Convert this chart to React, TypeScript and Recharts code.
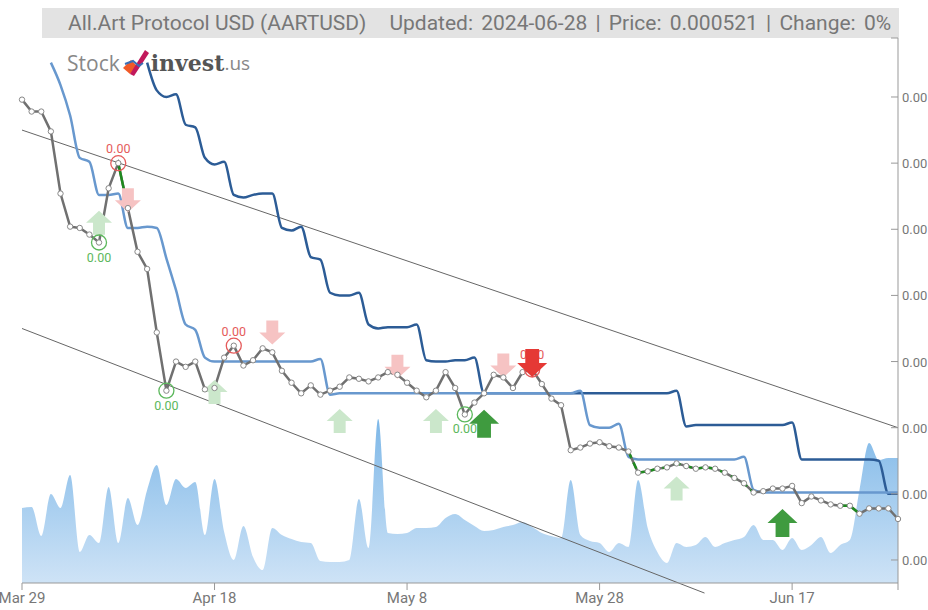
import { ComposedChart, Area, Line, XAxis, YAxis, ReferenceLine } from "recharts";

// price in millionths of a USD, one value per day from Mar 29 to Jun 28
const price = [
  848, 839, 839, 824, 777, 752, 751, 746, 740, 781,
  800, 766, 733, 720, 672, 628, 650, 646, 650, 629,
  630, 653, 662, 647, 651, 660, 657, 643, 634, 626,
  632, 625, 628, 631, 638, 637, 635, 638, 642, 640,
  634, 628, 623, 628, 642, 630, 610, 619, 626, 640,
  638, 630, 642, 644, 633, 622, 617, 583, 585, 588,
  589, 586, 585, 582, 566, 567, 569, 570, 573, 571,
  569, 570, 569, 566, 562, 558, 551, 552, 554, 554,
  556, 543, 548, 545, 542, 541, 541, 535, 539, 539,
  539, 531,
];

const fastMa = [
  null, null, null, 876, 859, 836, 804, 801, 776, 776,
  777, 751, 751, 752, 751, 728, 704, 678, 674, 653,
  650, 650, 650, 650, 650, 650, 650, 650, 650, 650,
  650, 652, 625, 626, 626, 626, 626, 626, 626, 626,
  626, 626, 626, 626, 626, 626, 626, 626, 626, 626,
  626, 626, 626, 626, 626, 626, 626, 626, 628, 602,
  600, 600, 603, 578, 576, 576, 576, 576, 576, 576,
  576, 576, 576, 576, 576, 578, 553, 551, 551, 551,
  551, 551, 551, 551, 551, 551, 551, 551, 551, 551,
  551, 551,
];

const slowMa = [
  null, null, null, null, null, null, null, null, null, null,
  null, null, null, 876, 855, 850, 852, 829, 827, 804,
  799, 801, 776, 774, 776, 777, 777, 751, 749, 752,
  729, 727, 702, 700, 700, 702, 678, 675, 676, 676,
  676, 678, 651, 650, 650, 651, 651, 653, 626, 626,
  626, 626, 626, 626, 626, 626, 626, 626, 626, 626,
  626, 626, 626, 626, 626, 626, 626, 626, 628, 601,
  602, 602, 602, 602, 602, 602, 602, 602, 602, 602,
  604, 576, 576, 576, 576, 576, 576, 576, 576, 575,
  550, 550,
];

const volume = [
  75, 76, 47, 89, 75, 108, 31, 48, 40, 96,
  40, 85, 58, 93, 118, 78, 104, 95, 101, 48,
  104, 51, 23, 57, 26, 13, 55, 48, 44, 41,
  40, 22, 21, 21, 23, 84, 35, 164, 50, 49,
  50, 55, 55, 56, 65, 69, 63, 57, 52, 53,
  56, 58, 61, 56, 50, 47, 45, 103, 48, 42,
  40, 31, 40, 36, 103, 55, 31, 20, 40, 36,
  38, 46, 36, 40, 43, 46, 58, 43, 43, 33,
  45, 33, 38, 46, 30, 38, 43, 93, 140, 123,
  125, 125,
];

const tickDays = [0, 20, 40, 60, 80, 91];
const tickLabels = ["Mar 29", "Apr 18", "May 8", "May 28", "Jun 17", ""];
const priceTicks = [500, 550, 600, 650, 700, 750, 800, 850, 894.6];

const trendSolidDays = [10, 11];
const trendDashDays = [63, 64, 65, 66, 67, 68, 69, 70, 71, 72, 73, 74, 75, 76, 85, 86, 87];

const pivotDays = [8, 10, 15, 22, 46, 53];
const pivotKinds = ["low", "high", "low", "high", "low", "high"];

const arrowDays = [8, 11, 20, 26, 33, 39, 43, 48, 50, 53, 68, 79];
const arrowLevels = [755, 772, 627, 672, 605, 646, 605, 603, 647, 649, 554, 528];
const arrowKinds = ["up", "down", "up", "down", "up", "down", "up", "upStrong", "down", "downStrong", "up", "upStrong"];

const upperChannel = [
  { x: 0, y: 825 },
  { x: 91, y: 600 },
];
const lowerChannel = [
  { x: 0, y: 675 },
  { x: 70.9, y: 475 },
];

const rows = price.map((p, i) => {
  const a = arrowDays.indexOf(i);
  const kind = a >= 0 ? arrowKinds[a] : "";
  return {
    day: i,
    price: p,
    fast: fastMa[i],
    slow: slowMa[i],
    volume: volume[i],
    trendSolid: trendSolidDays.includes(i) ? p : null,
    trendDash: trendDashDays.includes(i) ? p : null,
    pivot: pivotDays.includes(i) ? p : null,
    arrowLight: kind === "up" || kind === "down" ? arrowLevels[a] : null,
    arrowStrong: kind.endsWith("Strong") ? arrowLevels[a] : null,
  };
});

const PriceTick = (props: any) => {
  const { x, y, payload } = props;
  const isTop = payload.value > 890;
  return (
    <g>
      <line x1={x - 11} x2={x - 4} y1={y} y2={y} stroke="#999" />
      {!isTop && (
        <text x={x} y={y} dy={5} fill="#777" fontSize={13} textAnchor="start" fontFamily="Roboto">
          {(payload.value / 1e6).toFixed(2)}
        </text>
      )}
    </g>
  );
};

const arrowPath = (cx: number, cy: number, w: number, h: number, up: boolean) => {
  const s = up ? 1 : -1;
  const sw = w * 0.23;
  return [
    `M${cx - w / 2},${cy}`,
    `L${cx},${cy - (s * h) / 2}`,
    `L${cx + w / 2},${cy}`,
    `L${cx + sw},${cy}`,
    `L${cx + sw},${cy + (s * h) / 2}`,
    `L${cx - sw},${cy + (s * h) / 2}`,
    `L${cx - sw},${cy}`,
    "Z",
  ].join(" ");
};

const ArrowDot = (props: any) => {
  const { cx, cy, value, index } = props;
  if (value == null || cx == null || cy == null) return <g key={`ar-${index}`} />;
  const kind = arrowKinds[arrowDays.indexOf(index)];
  const strong = kind.endsWith("Strong");
  const up = kind.startsWith("up");
  const color = strong ? (up ? "#3f9b3f" : "#e53935") : up ? "#cbe7cb" : "#f6c3c3";
  const w = strong ? 30 : 26;
  const h = strong ? 28 : 24;
  return <path key={`ar-${index}`} d={arrowPath(cx, cy, w, h, up)} fill={color} />;
};

const PivotDot = (props: any) => {
  const { cx, cy, value, index } = props;
  if (value == null || cx == null || cy == null) return <g key={`pv-${index}`} />;
  const high = pivotKinds[pivotDays.indexOf(index)] === "high";
  const color = high ? "#e55b5b" : "#5cb85c";
  return (
    <g key={`pv-${index}`}>
      <circle cx={cx} cy={cy} r={7.5} fill="none" stroke={color} strokeWidth={1.3} />
      <text
        x={cx}
        y={high ? cy - 10 : cy + 19}
        textAnchor="middle"
        fill={color}
        fontSize={12.5}
        fontFamily="Roboto"
      >
        {(value / 1e6).toFixed(2)}
      </text>
    </g>
  );
};

const Logo = () => (
  <div style={{ position: "absolute", left: 67, top: 47, height: 32, display: "flex", alignItems: "center" }}>
    <span style={{ fontFamily: "Open Sans", fontSize: 21, color: "#888" }}>Stock</span>
    <svg width={30} height={30} viewBox="0 0 30 30" style={{ margin: "0 0 0 1px" }}>
      <polygon points="2,20 10,12 16,18 9,26" fill="#f05a28" />
      <polygon points="9,26 24,2 28,5 13,28" fill="#c2185b" />
      <polyline points="4,16 12,13 18,18 22,15" fill="none" stroke="#3b6fb5" strokeWidth={2} />
    </svg>
    <span style={{ fontFamily: "DejaVu Serif", fontWeight: "bold", fontSize: 22, color: "#555" }}>invest</span>
    <span style={{ fontFamily: "Open Sans", fontSize: 19, color: "#888" }}>.us</span>
  </div>
);

export default function App() {
  return (
    <div style={{ position: "absolute", left: 0, top: 0, width: 928, height: 610, background: "#fff" }}>
      <div
        style={{
          position: "absolute",
          left: 42,
          top: 8,
          width: 857,
          height: 30,
          background: "#e3e3e3",
          fontFamily: "Roboto",
          fontSize: 21,
          color: "#777",
          lineHeight: "30px",
          whiteSpace: "nowrap",
        }}
      >
        <span style={{ marginLeft: 26 }}>All.Art Protocol USD (AARTUSD)</span>
        <span style={{ marginLeft: 23, wordSpacing: 3 }}>Updated: 2024-06-28 | Price: 0.000521 | Change: 0%</span>
      </div>
      <ComposedChart
        width={928}
        height={610}
        data={rows}
        margin={{ top: 38, right: 0, bottom: 0, left: 22 }}
      >
        <defs>
          <linearGradient id="volFill" x1="0" y1="0" x2="0" y2="1">
            <stop offset="0%" stopColor="#5ea6e2" stopOpacity={1} />
            <stop offset="100%" stopColor="#c2dcf4" stopOpacity={1} />
          </linearGradient>
        </defs>
        <XAxis
          dataKey="day"
          type="number"
          domain={[0, 91]}
          ticks={tickDays}
          interval={0}
          tickFormatter={(d: number) => tickLabels[tickDays.indexOf(d)] ?? ""}
          height={27}
          tickSize={7}
          stroke="#999"
          tick={{ fill: "#777", fontSize: 15, fontFamily: "Roboto" }}
        />
        <YAxis
          yAxisId="price"
          orientation="right"
          domain={[482.6, 894.6]}
          ticks={priceTicks}
          interval={0}
          allowDataOverflow
          width={30}
          stroke="#999"
          tickLine={false}
          tickSize={0}
          tickMargin={4}
          tick={PriceTick}
        />
        <YAxis yAxisId="vol" hide domain={[0, 545]} allowDataOverflow />
        <Area
          yAxisId="vol"
          type="monotone"
          dataKey="volume"
          stroke="none"
          fill="url(#volFill)"
          fillOpacity={0.8}
          isAnimationActive={false}
        />
        <ReferenceLine yAxisId="price" segment={upperChannel} stroke="#666" strokeWidth={1} ifOverflow="visible" />
        <ReferenceLine yAxisId="price" segment={lowerChannel} stroke="#666" strokeWidth={1} ifOverflow="visible" />
        <Line yAxisId="price" type="monotone" dataKey="slow" stroke="#2c5c96" strokeWidth={2.5} dot={false} isAnimationActive={false} />
        <Line yAxisId="price" type="monotone" dataKey="fast" stroke="#6898ce" strokeWidth={2.5} dot={false} isAnimationActive={false} />
        <Line yAxisId="price" dataKey="arrowLight" stroke="none" dot={ArrowDot} activeDot={false} isAnimationActive={false} />
        <Line yAxisId="price" type="linear" dataKey="price" stroke="#707070" strokeWidth={2.5} dot={false} isAnimationActive={false} />
        <Line yAxisId="price" type="linear" dataKey="trendSolid" stroke="#1f8a1f" strokeWidth={2.5} dot={false} isAnimationActive={false} />
        <Line yAxisId="price" type="linear" dataKey="trendDash" stroke="#1f8a1f" strokeWidth={2.5} strokeDasharray="7 5" dot={false} isAnimationActive={false} />
        <Line
          yAxisId="price"
          type="linear"
          dataKey="price"
          stroke="none"
          dot={{ r: 2.7, fill: "#fff", stroke: "#888", strokeWidth: 1 }}
          activeDot={false}
          isAnimationActive={false}
        />
        <Line yAxisId="price" dataKey="pivot" stroke="none" dot={PivotDot} activeDot={false} isAnimationActive={false} />
        <Line yAxisId="price" dataKey="arrowStrong" stroke="none" dot={ArrowDot} activeDot={false} isAnimationActive={false} />
      </ComposedChart>
      <Logo />
    </div>
  );
}
